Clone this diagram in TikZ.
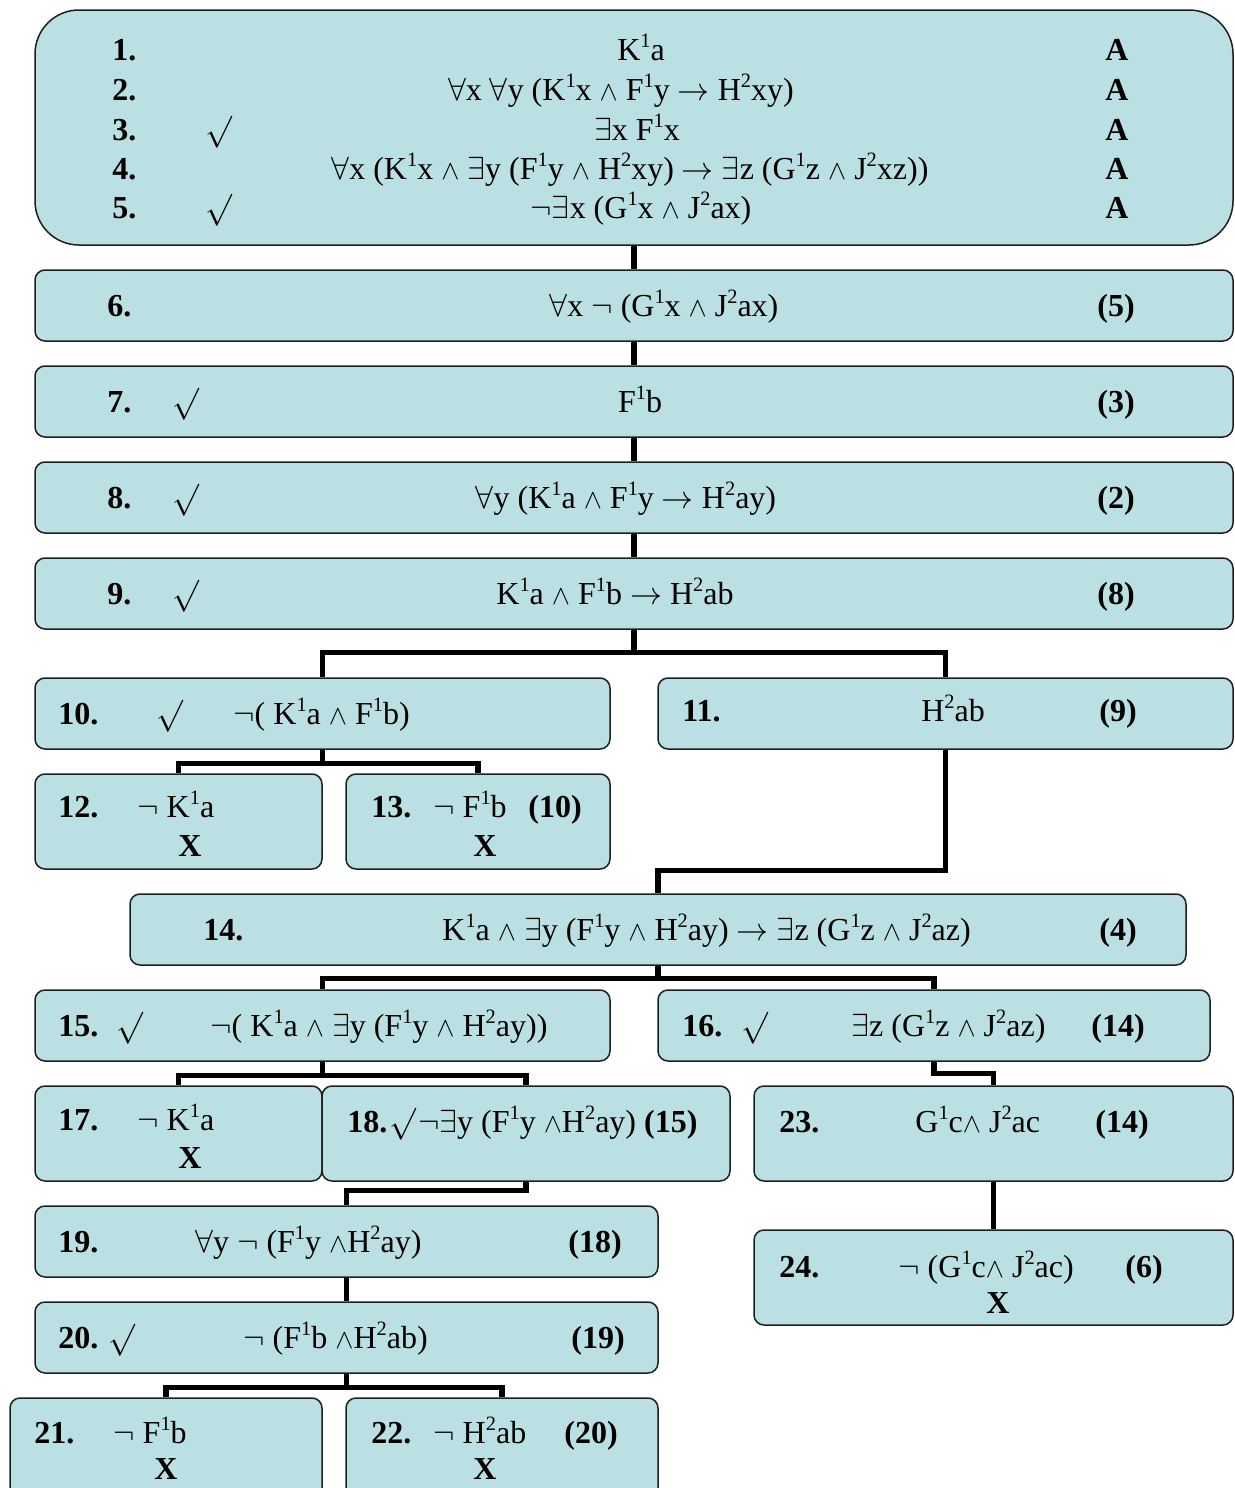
\RequirePackage{fix-cm}
\documentclass[tikz,border=0pt]{standalone}
\usepackage{fontspec}
\setmainfont{Liberation Serif}
\usetikzlibrary{fit}
\definecolor{boxfill}{RGB}{187,224,227}
\definecolor{boxline}{RGB}{30,30,30}
\newcommand\Lfa{$\forall$}
\newcommand\Lex{$\exists$}
\newcommand\Land{\scalebox{0.85}{$\wedge$}}
\newcommand\Lto{$\rightarrow$}
\newcommand\Lneg{$\neg$}
\newcommand\Lck{$\surd$}
\newcommand\Sp[1]{\raisebox{6.1pt}{\fontsize{10.2}{11}\selectfont #1}}
\newcommand\Fz{\fontsize{16}{19}\selectfont}
\tikzset{
  box/.style={draw=boxline, line width=0.75pt, fill=boxfill, rounded corners=5pt, inner sep=0pt},
  conn/.style={line width=2.6pt, line join=miter, line cap=butt, draw=black},
  lbl/.style={inner sep=0pt, text height=11pt, text depth=0pt, font=\Fz},
  num/.style={lbl, font=\Fz\bfseries, anchor=west},
  fl/.style={lbl, anchor=west},
  fc/.style={lbl},
  bc/.style={lbl, font=\Fz\bfseries},
  bl/.style={lbl, font=\Fz\bfseries, anchor=west},
}
\begin{document}
\begin{tikzpicture}[x=0.5pt,y=-0.5pt]
\path[use as bounding box] (0,0) rectangle (1235,1488);
\clip (0,0) rectangle (1235,1488);

% boxes
\node[box, rounded corners=22pt, fit={(35,10)(1233,245)}] (b1) {};
\node[box, fit={(35,270)(1233,341)}] (b6) {};
\node[box, fit={(35,366)(1233,437)}] (b7) {};
\node[box, fit={(35,462)(1233,533)}] (b8) {};
\node[box, fit={(35,558)(1233,629)}] (b9) {};
\node[box, fit={(35,678)(610,749)}] (b10) {};
\node[box, fit={(658,678)(1233,749)}] (b11) {};
\node[box, fit={(35,774)(322,869)}] (b12) {};
\node[box, fit={(346,774)(610,869)}] (b13) {};
\node[box, fit={(130,894)(1186,965)}] (b14) {};
\node[box, fit={(35,990)(610,1061)}] (b15) {};
\node[box, fit={(658,990)(1210,1061)}] (b16) {};
\node[box, fit={(35,1086)(322,1181)}] (b17) {};
\node[box, fit={(322,1086)(730,1181)}] (b18) {};
\node[box, fit={(754,1086)(1233,1181)}] (b23) {};
\node[box, fit={(754,1230)(1233,1325)}] (b24) {};
\node[box, fit={(35,1206)(658,1277)}] (b19) {};
\node[box, fit={(35,1302)(658,1373)}] (b20) {};
\node[box, fit={(10,1398)(322,1510)}] (b21) {};
\node[box, fit={(346,1398)(658,1510)}] (b22) {};

% connectors
\draw[conn] (b1.south) -- (b6.north);
\draw[conn] (b6.south) -- (b7.north);
\draw[conn] (b7.south) -- (b8.north);
\draw[conn] (b8.south) -- (b9.north);
\draw[conn] (b9.south) -- ++(0,23) coordinate (j9) -| (b10.north);
\draw[conn] (j9) -| (b11.north);
\draw[conn] (b10.south) -- ++(0,14) coordinate (j10) -| (b12.north);
\draw[conn] (j10) -| (b13.north);
\draw[conn] (b11.south) -- ++(0,121) -| (b14.north);
\draw[conn] (b14.south) -- ++(0,13) coordinate (j14) -| (b15.north);
\draw[conn] (j14) -| (b16.north);
\draw[conn] (b15.south) -- ++(0,14) coordinate (j15) -| (b17.north);
\draw[conn] (j15) -| (b18.north);
\draw[conn] (b16.south) -- ++(0,12) -| (b23.north);
\draw[conn] (b23.south) -- (b24.north);
\draw[conn] (b18.south) -- ++(0,9) -| (b19.north);
\draw[conn] (b19.south) -- (b20.north);
\draw[conn] (b20.south) -- ++(0,14) coordinate (j20) -| (b21.north);
\draw[conn] (j20) -| (b22.north);

% top box
\node[num] (n1) at (112,49) {1.};
\node[num] (n2) at (112,89) {2.};
\node[num] (n3) at (112,129) {3.};
\node[num] (n4) at (112,168) {4.};
\node[num] (n5) at (112,207) {5.};
\node[fc] (c3) at (219,129) {\Lck};
\node[fc] (c5) at (219,207) {\Lck};
\node[fc] (f1) at (641,49) {K\Sp1a};
\node[fc] (f2) at (621,89) {\Lfa x \Lfa y (K\Sp1x \Land{} F\Sp1y \Lto{} H\Sp2xy)};
\node[fc] (f3) at (637,129) {\Lex x F\Sp1x};
\node[fc] (f4) at (630,168) {\Lfa x (K\Sp1x \Land{} \Lex y (F\Sp1y \Land{} H\Sp2xy) \Lto{} \Lex z (G\Sp1z \Land{} J\Sp2xz))};
\node[fc] (f5) at (641,207) {\Lneg\Lex x (G\Sp1x \Land{} J\Sp2ax)};
\node[bc] (a1) at (1117,49) {A};
\node[bc] (a2) at (1117,89) {A};
\node[bc] (a3) at (1117,129) {A};
\node[bc] (a4) at (1117,168) {A};
\node[bc] (a5) at (1117,207) {A};

% 6-9
\node[num] (n6) at (107,305) {6.};
\node[fc] (f6) at (664,305) {\Lfa x \Lneg{} (G\Sp1x \Land{} J\Sp2ax)};
\node[bc] (r6) at (1116,305) {(5)};
\node[num] (n7) at (107,401) {7.};
\node[fc] (c7) at (186,401) {\Lck};
\node[fc] (f7) at (640,401) {F\Sp1b};
\node[bc] (r7) at (1116,401) {(3)};
\node[num] (n8) at (107,497) {8.};
\node[fc] (c8) at (186,497) {\Lck};
\node[fc] (f8) at (626,497) {\Lfa y (K\Sp1a \Land{} F\Sp1y \Lto{} H\Sp2ay)};
\node[bc] (r8) at (1116,497) {(2)};
\node[num] (n9) at (107,593) {9.};
\node[fc] (c9) at (186,593) {\Lck};
\node[fc] (f9) at (615,593) {K\Sp1a \Land{} F\Sp1b \Lto{} H\Sp2ab};
\node[bc] (r9) at (1116,593) {(8)};

% 10-13
\node[num] (n10) at (58,713) {10.};
\node[fc] (c10) at (170,713) {\Lck};
\node[fl] (f10) at (233,713) {\Lneg( K\Sp1a \Land{} F\Sp1b)};
\node[num] (n11) at (682,710) {11.};
\node[fc] (f11) at (953,710) {H\Sp2ab};
\node[bc] (r11) at (1118,710) {(9)};
\node[num] (n12) at (58,806) {12.};
\node[fl] (f12) at (137,806) {\Lneg{} K\Sp1a};
\node[bc] (x12) at (190,845) {X};
\node[num] (n13) at (371,806) {13.};
\node[fl] (f13) at (433,806) {\Lneg{} F\Sp1b};
\node[bl] (r13) at (528,806) {(10)};
\node[bc] (x13) at (485,845) {X};

% 14-18
\node[num] (n14) at (203,929) {14.};
\node[fl] (f14) at (442,929) {K\Sp1a \Land{} \Lex y (F\Sp1y \Land{} H\Sp2ay) \Lto{} \Lex z (G\Sp1z \Land{} J\Sp2az)};
\node[bc] (r14) at (1118,929) {(4)};
\node[num] (n15) at (58,1025) {15.};
\node[fc] (c15) at (130,1025) {\Lck};
\node[fl] (f15) at (210,1025) {\Lneg( K\Sp1a \Land{} \Lex y (F\Sp1y \Land{} H\Sp2ay))};
\node[num] (n16) at (682,1025) {16.};
\node[fc] (c16) at (755,1025) {\Lck};
\node[fl] (f16) at (851,1025) {\Lex z (G\Sp1z \Land{} J\Sp2az)};
\node[bl] (r16) at (1091,1025) {(14)};
\node[num] (n17) at (58,1119) {17.};
\node[fl] (f17) at (137,1119) {\Lneg{} K\Sp1a};
\node[bc] (x17) at (190,1157) {X};
\node[fl] (f18) at (347,1121) {{\bfseries 18.}\hspace{1pt}\Lck{}\hspace{1pt}\Lneg\Lex y (F\Sp1y \Land H\Sp2ay) {\bfseries (15)}};

% 23-24
\node[num] (n23) at (779,1121) {23.};
\node[fl] (f23) at (915,1121) {G\Sp1c\Land{} J\Sp2ac};
\node[bl] (r23) at (1095,1121) {(14)};
\node[num] (n24) at (779,1266) {24.};
\node[fl] (f24) at (898,1266) {\Lneg{} (G\Sp1c\Land{} J\Sp2ac)};
\node[bl] (r24) at (1125,1266) {(6)};
\node[bc] (x24) at (998,1302) {X};

% 19-22
\node[num] (n19) at (58,1241) {19.};
\node[fl] (f19) at (195,1241) {\Lfa y \Lneg{} (F\Sp1y \Land H\Sp2ay)};
\node[bl] (r19) at (568,1241) {(18)};
\node[num] (n20) at (58,1337) {20.};
\node[fc] (c20) at (122,1337) {\Lck};
\node[fl] (f20) at (243,1337) {\Lneg{} (F\Sp1b \Land H\Sp2ab)};
\node[bl] (r20) at (571,1337) {(19)};
\node[num] (n21) at (34,1432) {21.};
\node[fl] (f21) at (113,1432) {\Lneg{} F\Sp1b};
\node[bc] (x21) at (166,1468) {X};
\node[num] (n22) at (371,1432) {22.};
\node[fl] (f22) at (433,1432) {\Lneg{} H\Sp2ab};
\node[bl] (r22) at (564,1432) {(20)};
\node[bc] (x22) at (485,1468) {X};
\end{tikzpicture}
\end{document}
